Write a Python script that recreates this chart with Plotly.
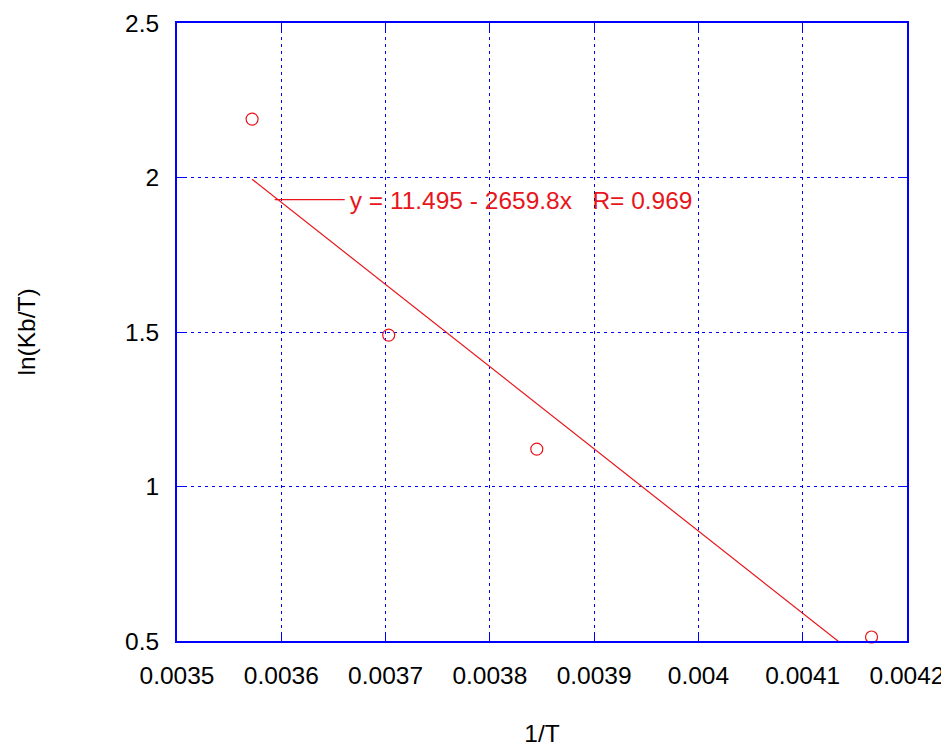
import plotly.graph_objects as go

# data
inv_T = [0.003572, 0.003703, 0.003845, 0.004166]
ln_kb_T = [2.189, 1.490, 1.121, 0.513]

# fit stated on the chart: y = 11.495 - 2659.8x, R = 0.969
FIT_INTERCEPT = 11.495
FIT_SLOPE = -2659.8
FIT_LABEL = "y = 11.495 - 2659.8x\u00a0\u00a0\u00a0R= 0.969"

x_ticks = [0.0035, 0.0036, 0.0037, 0.0038, 0.0039, 0.004, 0.0041, 0.0042]
x_tick_text = ["0.0035", "0.0036", "0.0037", "0.0038", "0.0039", "0.004", "0.0041", "0.0042"]
y_ticks = [0.5, 1, 1.5, 2, 2.5]
y_tick_text = ["0.5", "1", "1.5", "2", "2.5"]

fit_x = [min(inv_T), max(inv_T)]
fit_y = [FIT_INTERCEPT + FIT_SLOPE * v for v in fit_x]

RED = "#e8151b"
BLUE = "#0000ff"
FONT = "Liberation Sans, Arial, Helvetica, sans-serif"
FS = 24.5

fig = go.Figure()
fig.add_trace(go.Scatter(
    x=inv_T, y=ln_kb_T, mode="markers", showlegend=False,
    marker=dict(symbol="circle-open", size=12, color=RED, line=dict(width=1.2, color=RED)),
    cliponaxis=False,
))
fig.add_trace(go.Scatter(
    x=fit_x, y=fit_y, mode="lines", name=FIT_LABEL,
    line=dict(color=RED, width=1.2),
))

axis_common = dict(
    showgrid=True, gridcolor=BLUE, gridwidth=1, griddash="3px,4px",
    showline=True, linecolor=BLUE, linewidth=2, mirror="ticks",
    ticks="inside", ticklen=9, tickcolor=BLUE, tickwidth=1.2,
    zeroline=False, automargin=False, ticklabeloverflow="allow",
    tickfont=dict(size=FS, color="black", family=FONT),
    title_font=dict(size=FS, color="black", family=FONT),
)

fig.update_xaxes(
    range=[0.0035, 0.0042], tickvals=x_ticks, ticktext=x_tick_text,
    title_text="1/T", title_standoff=36, ticklabelstandoff=12, **axis_common,
)
fig.update_yaxes(
    range=[0.5, 2.5], tickvals=y_ticks, ticktext=y_tick_text,
    title_text="ln(Kb/T)", title_standoff=82, ticklabelstandoff=11, **axis_common,
)

fig.update_layout(
    width=941, height=739,
    margin=dict(l=169, r=42, t=15, b=106),
    paper_bgcolor="white", plot_bgcolor="white",
    font=dict(family=FONT, size=FS, color="black"),
    legend=dict(
        x=0.127, y=0.714, xanchor="left", yanchor="middle",
        bgcolor="rgba(0,0,0,0)", borderwidth=0, itemwidth=70,
        font=dict(size=FS, color=RED, family=FONT),
    ),
)

fig.write_html("out.html")
